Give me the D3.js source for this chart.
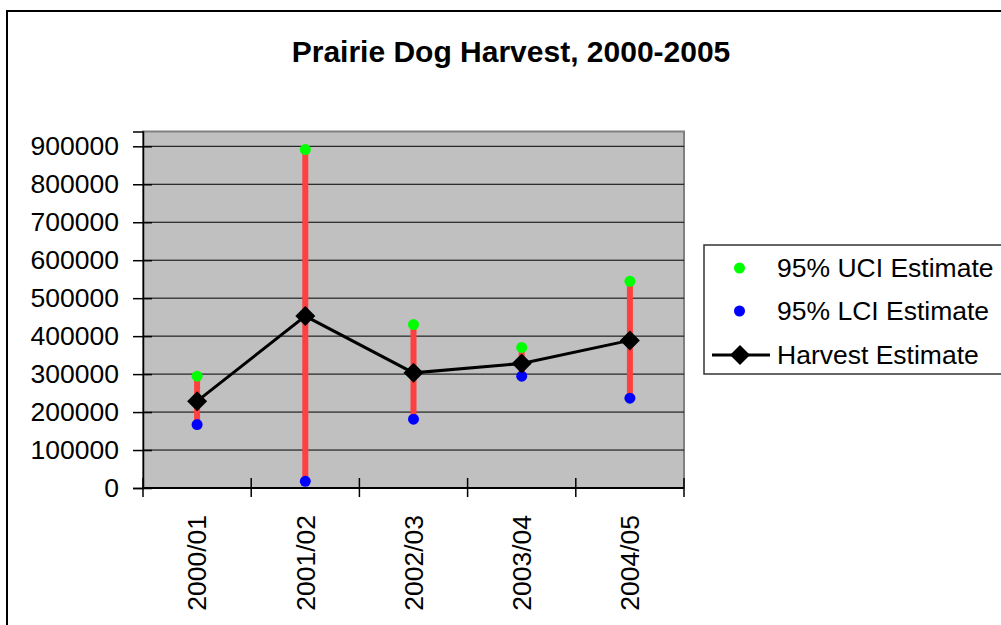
<!DOCTYPE html>
<html>
<head>
<meta charset="utf-8">
<script src="https://cdn.jsdelivr.net/npm/d3@7"></script>
<style>
  body { margin: 0; background: #fff; }
  svg { display: block; font-family: "Liberation Sans", Arial, sans-serif; }
</style>
</head>
<body>
<div id="chart"></div>
<script>
// chart values
const categories = ["2000/01", "2001/02", "2002/03", "2003/04", "2004/05"];
const harvest = [228700, 452900, 303300, 328100, 388800];
const uci = [294600, 891600, 430500, 370300, 544400];
const lci = [167200, 17700, 181200, 294600, 236600];
const yTicks = [0, 100000, 200000, 300000, 400000, 500000, 600000, 700000, 800000, 900000];
const legendLabels = ["95% UCI Estimate", "95% LCI Estimate", "Harvest Estimate"];

const width = 1001, height = 625;
const plot = {left: 143, right: 684, top: 131.5, bottom: 488};

const svg = d3.select("#chart")
    .append("svg")
    .attr("width", width)
    .attr("height", height);

// outer chart frame
svg.append("rect")
    .attr("x", 7).attr("y", 11)
    .attr("width", 1010).attr("height", 640)
    .attr("fill", "#fff")
    .attr("stroke", "#000")
    .attr("stroke-width", 2);

svg.append("text")
    .attr("x", 511).attr("y", 62)
    .attr("text-anchor", "middle")
    .attr("font-size", 30)
    .attr("font-weight", "bold")
    .text("Prairie Dog Harvest, 2000-2005");

const x = d3.scaleBand()
    .domain(categories)
    .range([plot.left, plot.right])
    .padding(0);

const y = d3.scaleLinear()
    .domain([0, 939000])
    .range([plot.bottom, plot.top]);

const cx = c => x(c) + x.bandwidth() / 2;

// plot area
svg.append("rect")
    .attr("x", plot.left).attr("y", plot.top)
    .attr("width", plot.right - plot.left)
    .attr("height", plot.bottom - plot.top)
    .attr("fill", "#c0c0c0")
    .attr("stroke", "#808080")
    .attr("stroke-width", 2);

// gridlines
svg.append("g")
    .selectAll("line")
    .data(yTicks.filter(d => d > 0))
    .enter().append("line")
    .attr("x1", plot.left).attr("x2", plot.right)
    .attr("y1", d => y(d)).attr("y2", d => y(d))
    .attr("stroke", "#000")
    .attr("stroke-width", 1);

// y axis
const yAxis = svg.append("g")
    .attr("transform", `translate(${plot.left},0)`)
    .call(d3.axisLeft(y).tickValues(yTicks).tickFormat(d3.format("d")).tickSize(10).tickPadding(14));
yAxis.select(".domain").attr("stroke", "#000").attr("stroke-width", 1.5);
yAxis.selectAll(".tick line").attr("x2", 9).attr("x1", -10).attr("stroke", "#000").attr("stroke-width", 1.5);
yAxis.selectAll(".tick text")
    .attr("font-size", 26.5)
    .attr("font-family", "Liberation Sans, Arial, sans-serif")
    .attr("fill", "#000")
    .attr("x", -24);

// x axis
const xAxis = svg.append("g")
    .attr("transform", `translate(0,${plot.bottom})`);
xAxis.append("line")
    .attr("x1", plot.left).attr("x2", plot.right)
    .attr("stroke", "#000").attr("stroke-width", 2);
xAxis.selectAll("line.tick")
    .data(d3.range(categories.length + 1))
    .enter().append("line")
    .attr("class", "tick")
    .attr("x1", i => i < categories.length ? x(categories[i]) : plot.right)
    .attr("x2", i => i < categories.length ? x(categories[i]) : plot.right)
    .attr("y1", -10).attr("y2", 9)
    .attr("stroke", "#000").attr("stroke-width", 1.5);
xAxis.selectAll("text")
    .data(categories)
    .enter().append("text")
    .attr("transform", d => `translate(${cx(d)},27) rotate(-90)`)
    .attr("text-anchor", "end")
    .attr("dy", "0.35em")
    .attr("font-size", 26.5)
    .text(d => d);

// confidence bars
svg.append("g")
    .selectAll("line")
    .data(categories)
    .enter().append("line")
    .attr("x1", d => cx(d)).attr("x2", d => cx(d))
    .attr("y1", (d, i) => y(uci[i])).attr("y2", (d, i) => y(lci[i]))
    .attr("stroke", "#ff4040")
    .attr("stroke-width", 6);

// UCI / LCI points
svg.append("g")
    .selectAll("circle")
    .data(categories)
    .enter().append("circle")
    .attr("cx", d => cx(d)).attr("cy", (d, i) => y(uci[i]))
    .attr("r", 5.5).attr("fill", "#00ff00");

svg.append("g")
    .selectAll("circle")
    .data(categories)
    .enter().append("circle")
    .attr("cx", d => cx(d)).attr("cy", (d, i) => y(lci[i]))
    .attr("r", 5.5).attr("fill", "#0000ff");

// harvest line
const line = d3.line()
    .x((d, i) => cx(categories[i]))
    .y(d => y(d));

svg.append("path")
    .datum(harvest)
    .attr("d", line)
    .attr("fill", "none")
    .attr("stroke", "#000")
    .attr("stroke-width", 3);

const diamond = d3.symbol().type(d3.symbolSquare).size(200);
svg.append("g")
    .selectAll("path")
    .data(harvest)
    .enter().append("path")
    .attr("d", diamond)
    .attr("transform", (d, i) => `translate(${cx(categories[i])},${y(d)}) rotate(45)`)
    .attr("fill", "#000");

// legend
const legend = svg.append("g");
legend.append("rect")
    .attr("x", 704).attr("y", 245)
    .attr("width", 320).attr("height", 129)
    .attr("fill", "#fff")
    .attr("stroke", "#333")
    .attr("stroke-width", 1.5);

const rowY = [268, 311, 355];
legend.append("circle").attr("cx", 739.5).attr("cy", rowY[0]).attr("r", 5.5).attr("fill", "#00ff00");
legend.append("circle").attr("cx", 739.5).attr("cy", rowY[1]).attr("r", 5.5).attr("fill", "#0000ff");
legend.append("line")
    .attr("x1", 712).attr("x2", 770)
    .attr("y1", rowY[2]).attr("y2", rowY[2])
    .attr("stroke", "#000").attr("stroke-width", 3);
legend.append("path")
    .attr("d", diamond)
    .attr("transform", `translate(740,${rowY[2]}) rotate(45)`)
    .attr("fill", "#000");

legend.selectAll("text")
    .data(legendLabels)
    .enter().append("text")
    .attr("x", 777)
    .attr("y", (d, i) => rowY[i])
    .attr("dy", "0.35em")
    .attr("font-size", 26.5)
    .text(d => d);
</script>
</body>
</html>
